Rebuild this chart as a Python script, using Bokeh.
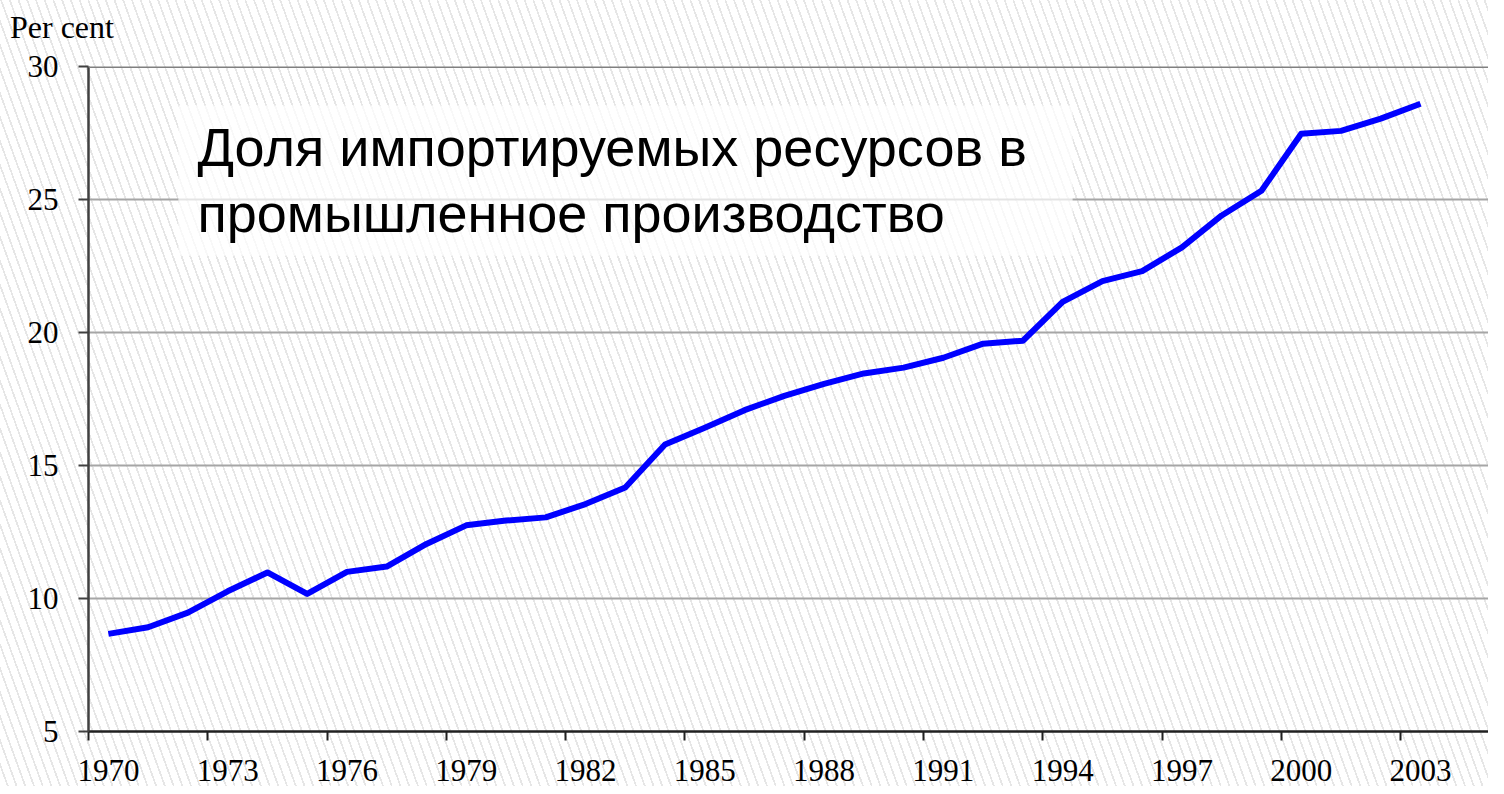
from bokeh.plotting import figure
from bokeh.models import FixedTicker, Label, BoxAnnotation, Span, Div
from bokeh.layouts import column
from bokeh.embed import file_html
from bokeh.resources import INLINE

years = [1970, 1971, 1972, 1973, 1974, 1975, 1976, 1977, 1978, 1979,
         1980, 1981, 1982, 1983, 1984, 1985, 1986, 1987, 1988, 1989,
         1990, 1991, 1992, 1993, 1994, 1995, 1996, 1997, 1998, 1999,
         2000, 2001, 2002, 2003]
share = [8.67, 8.92, 9.47, 10.27, 10.98, 10.17, 11.00, 11.20, 12.05, 12.75,
         12.93, 13.05, 13.55, 14.17, 15.79, 16.42, 17.08, 17.62, 18.07, 18.46,
         18.68, 19.05, 19.58, 19.69, 21.15, 21.93, 22.31, 23.20, 24.40, 25.33,
         27.47, 27.58, 28.04, 28.60]
x_label_years = [1970, 1973, 1976, 1979, 1982, 1985, 1988, 1991, 1994, 1997, 2000, 2003]
x_boundaries = [1969.5, 1972.5, 1975.5, 1978.5, 1981.5, 1984.5, 1987.5, 1990.5,
                1993.5, 1996.5, 1999.5, 2002.5]
y_ticks = [5, 10, 15, 20, 25, 30]
y_title = "Per cent"
chart_title = "Доля импортируемых ресурсов в\nпромышленное производство"

HATCH = "repeating-linear-gradient(70deg, #ffffff 0px, #ffffff 6.5px, #e6e6e6 6.5px, #e6e6e6 8.2px)"

# "Per cent" heading above the y axis
head = Div(text=('<div style="position:relative; left:10px; top:11px; '
                 'font-family:\'Liberation Serif\'; font-size:32px; line-height:32px; '
                 'color:black; white-space:nowrap;">' + y_title + '</div>'),
           width=1488, height=40, margin=(0, 0, 0, 0))

p = figure(frame_width=1400, frame_height=665,
           x_range=(1969.5, 2004.71), y_range=(5, 30),
           output_backend="svg", toolbar_location=None,
           min_border_left=88, min_border_right=0,
           min_border_top=26, min_border_bottom=55,
           margin=(0, 0, 0, 0))
p.background_fill_color = None
p.border_fill_color = None
p.outline_line_color = None

# grid
p.xgrid.visible = False
p.ygrid.ticker = FixedTicker(ticks=y_ticks)
p.ygrid.grid_line_color = "#a6a6a6"
p.ygrid.grid_line_width = 2

# top border
p.add_layout(Span(location=30, dimension="width", line_color="#808080", line_width=3))

# y axis
p.yaxis.ticker = FixedTicker(ticks=y_ticks)
p.yaxis.axis_line_color = "#404040"
p.yaxis.axis_line_width = 2.5
p.yaxis.major_tick_line_color = "#404040"
p.yaxis.major_tick_line_width = 2
p.yaxis.major_tick_out = 10
p.yaxis.major_tick_in = 0
p.yaxis.minor_tick_line_color = None
p.yaxis.major_label_text_font = "Liberation Serif"
p.yaxis.major_label_text_font_size = "31px"
p.yaxis.major_label_text_color = "black"
p.yaxis.major_label_standoff = 20

# x axis
p.xaxis.ticker = FixedTicker(ticks=x_label_years, minor_ticks=x_boundaries)
p.xaxis.axis_line_color = "#202020"
p.xaxis.axis_line_width = 2.5
p.xaxis.major_tick_line_color = None
p.xaxis.major_tick_out = 0
p.xaxis.major_tick_in = 0
p.xaxis.minor_tick_line_color = "#202020"
p.xaxis.minor_tick_line_width = 2
p.xaxis.minor_tick_out = 9
p.xaxis.minor_tick_in = 0
p.xaxis.major_label_text_font = "Liberation Serif"
p.xaxis.major_label_text_font_size = "31px"
p.xaxis.major_label_text_color = "black"
p.xaxis.major_label_standoff = 19

# data line
p.line(years, share, line_color="#0000ff", line_width=6, line_join="round")

# title box
p.add_layout(BoxAnnotation(left=1971.76, right=1994.25, bottom=22.89, top=28.53,
                           fill_color="white", fill_alpha=0.7, line_color=None))
p.add_layout(Label(x=1972.24, y=28.11, text=chart_title, text_align="left",
                   text_baseline="top", text_font="Liberation Sans",
                   text_font_size="54px", text_color="black", text_line_height=1.1))

layout = column(head, p, spacing=0)
layout.styles = {"background-image": HATCH}

open("out.html", "w").write(file_html(layout, INLINE))
